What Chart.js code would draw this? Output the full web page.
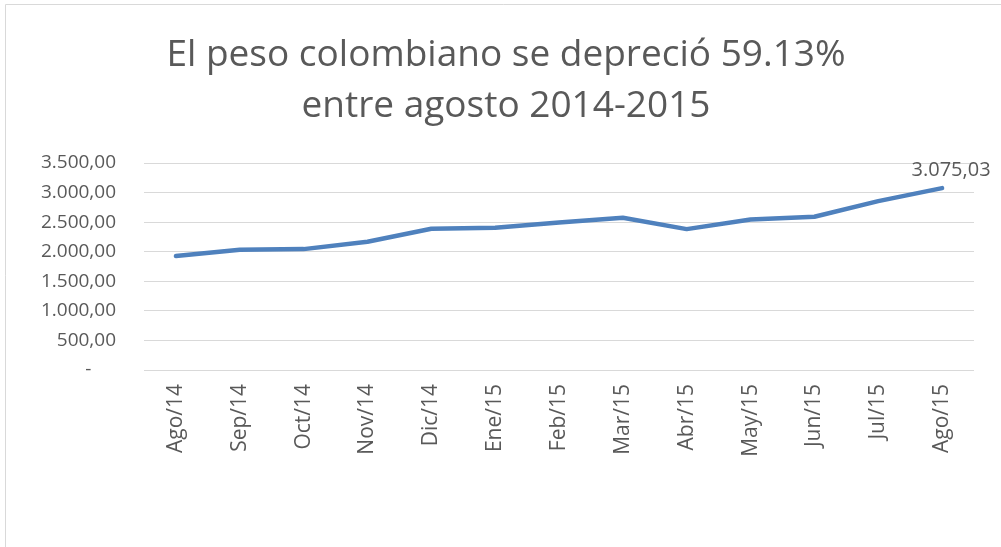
<!DOCTYPE html>
<html>
<head>
<meta charset="utf-8">
<script src="https://cdn.jsdelivr.net/npm/chart.js@4"></script>
<style>
  html, body { margin: 0; padding: 0; background: #fff; }
  #wrap { position: relative; width: 1001px; height: 547px; }
</style>
</head>
<body>
<div id="wrap"><canvas id="c" width="1001" height="547"></canvas></div>
<script>
const titleLines = ["El peso colombiano se depreció 59.13%", "entre agosto 2014-2015"];
const categories = ["Ago/14", "Sep/14", "Oct/14", "Nov/14", "Dic/14", "Ene/15", "Feb/15", "Mar/15", "Abr/15", "May/15", "Jun/15", "Jul/15", "Ago/15"];
const pesoValues = [1926, 2034, 2044, 2169, 2389, 2405, 2495, 2574, 2382, 2546, 2591, 2855, 3075.03];
const yTicks = [0, 500, 1000, 1500, 2000, 2500, 3000, 3500];
const labelledIndex = 12;

const TEXT = '#595959';
const GRID = '#d9d9d9';
const FONT = "'Open Sans', 'Liberation Sans', sans-serif";

function fmt(v) {
  const parts = v.toFixed(2).split('.');
  const intPart = parts[0].replace(/\B(?=(\d{3})+(?!\d))/g, '.');
  return intPart + ',' + parts[1];
}

const framePlugin = {
  id: 'frame',
  beforeDraw(chart) {
    const ctx = chart.ctx;
    ctx.save();
    ctx.strokeStyle = GRID;
    ctx.lineWidth = 1;
    ctx.beginPath();
    ctx.moveTo(5.5, chart.height);
    ctx.lineTo(5.5, 4.5);
    ctx.lineTo(chart.width, 4.5);
    ctx.stroke();
    // title
    ctx.fillStyle = TEXT;
    ctx.font = "37px " + FONT;
    ctx.textAlign = 'center';
    ctx.textBaseline = 'alphabetic';
    ctx.fillText(titleLines[0], 506, 66);
    ctx.fillText(titleLines[1], 506, 117);
    ctx.restore();
  }
};

const dataLabelPlugin = {
  id: 'dataLabel',
  afterDatasetsDraw(chart) {
    const meta = chart.getDatasetMeta(0);
    const pt = meta.data[labelledIndex];
    const ctx = chart.ctx;
    ctx.save();
    ctx.fillStyle = TEXT;
    ctx.font = "20px " + FONT;
    ctx.textAlign = 'center';
    ctx.textBaseline = 'alphabetic';
    ctx.fillText(fmt(pesoValues[labelledIndex]), pt.x + 9, pt.y - 12);
    ctx.restore();
  }
};

new Chart(document.getElementById('c'), {
  type: 'line',
  data: {
    labels: categories,
    datasets: [{
      data: pesoValues,
      borderColor: '#4f81bd',
      borderWidth: 4.5,
      pointRadius: 0,
      pointHoverRadius: 0,
      tension: 0,
      fill: false,
      borderCapStyle: 'round',
      borderJoinStyle: 'round'
    }]
  },
  options: {
    responsive: false,
    animation: false,
    events: [],
    layout: { padding: { top: 163, left: 0, right: 27, bottom: 0 } },
    plugins: { legend: { display: false }, title: { display: false }, tooltip: { enabled: false } },
    scales: {
      x: {
        type: 'category',
        offset: true,
        grid: { display: false, drawTicks: false },
        border: { display: false },
        ticks: {
          color: TEXT,
          font: { family: FONT, size: 21 },
          minRotation: 90,
          maxRotation: 90,
          autoSkip: false,
          padding: 14
        },
        afterFit(scale) { scale.height = 177; }
      },
      y: {
        min: 0,
        max: 3500,
        grid: { color: GRID, lineWidth: 1, drawTicks: false },
        border: { display: false },
        afterBuildTicks(scale) { scale.ticks = yTicks.map(v => ({ value: v })); },
        ticks: {
          color: TEXT,
          font: { family: FONT, size: 19 },
          padding: 28,
          callback(v) { return v === 0 ? '-     ' : fmt(v); }
        },
        afterFit(scale) { scale.width = 144; }
      }
    }
  },
  plugins: [framePlugin, dataLabelPlugin]
});
</script>
</body>
</html>
